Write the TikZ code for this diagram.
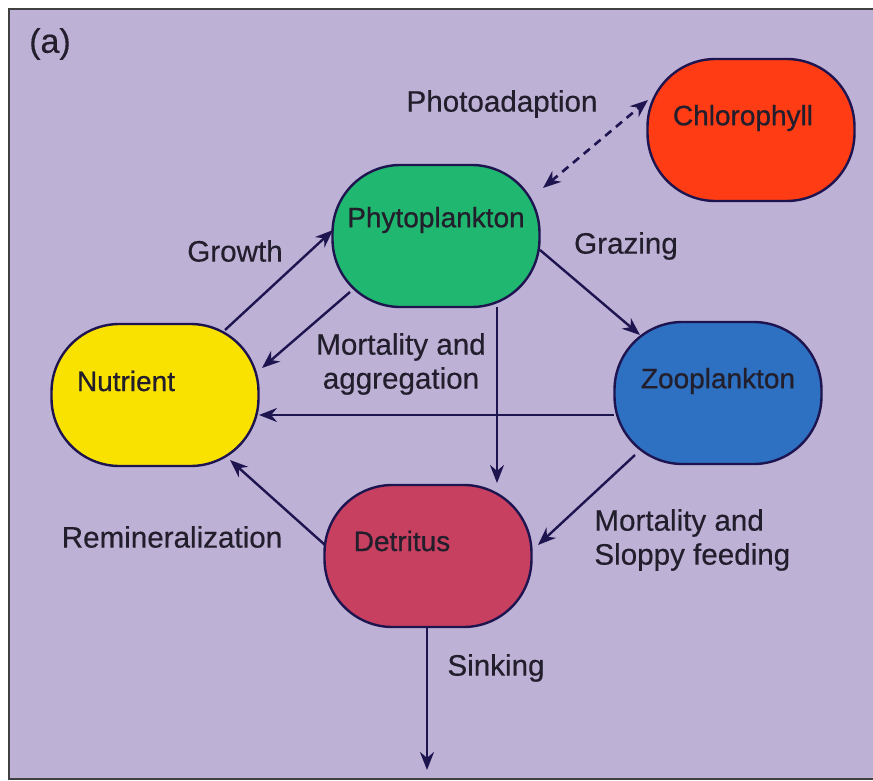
\documentclass[tikz,border=0pt]{standalone}
\usepackage{fontspec}
\setmainfont{Liberation Sans}
\newfontfamily\semib{Liberation Sans}[BoldFont=Liberation Sans, BoldFeatures={FakeBold=0.7}]
\newfontfamily\lblfont{Liberation Sans}[BoldFont=Liberation Sans, BoldFeatures={FakeBold=0.4}]
\usetikzlibrary{arrows.meta,calc}
\definecolor{bgc}{RGB}{189,177,214}
\definecolor{ink}{RGB}{30,20,80}
\definecolor{txt}{RGB}{34,30,44}
\definecolor{chlc}{RGB}{255,60,20}
\definecolor{phyc}{RGB}{32,184,112}
\definecolor{nutc}{RGB}{250,226,0}
\definecolor{zooc}{RGB}{46,112,194}
\definecolor{detc}{RGB}{200,64,96}
\tikzset{
  box/.style={draw=ink, line width=1.2pt, rounded corners=34pt, minimum width=103.5pt, minimum height=71pt, inner sep=0pt},
  boxtext/.style={font=\semib\bfseries\fontsize{14pt}{16pt}\selectfont, text=txt, inner sep=0pt},
  lbl/.style={font=\lblfont\bfseries\fontsize{14.8pt}{17pt}\selectfont, text=txt, inner sep=0pt},
  flow/.style={draw=ink, line width=1.2pt, -{Stealth[length=9pt,width=7pt]}},
  dflow/.style={draw=ink, line width=1.3pt, dash pattern=on 4pt off 3pt, {Stealth[length=9pt,width=7pt]}-{Stealth[length=9pt,width=7pt]}}
}
\begin{document}
\begin{tikzpicture}[x=0.5pt,y=-0.5pt]
\useasboundingbox (0,0) rectangle (873,781);
\fill[white] (0,0) rectangle (873,781);
\draw[fill=bgc, draw=black!75, line width=1pt] (9,9) rectangle (880,779);
\node[font=\lblfont\bfseries\fontsize{17pt}{20pt}\selectfont, text=txt, inner sep=0pt] (lab) at (50,44) {(a)};
% boxes
\node[box, fill=chlc] (chl) at (751,130) {};
\node[boxtext] (chlt) at (743,118) {Chlorophyll};
\node[box, fill=phyc] (phy) at (436,236) {};
\node[boxtext] (phyt) at (436,220) {Phytoplankton};
\node[box, fill=nutc] (nut) at (155,395) {};
\node[boxtext] (nutt) at (126,381) {Nutrient};
\node[box, fill=zooc] (zoo) at (718,393) {};
\node[boxtext] (zoot) at (718,381) {Zooplankton};
\node[box, fill=detc] (det) at (428,556) {};
\node[boxtext] (dett) at (402,541) {Detritus};
\coordinate (sinkend) at (427,770);
% connectors
\draw[dflow] ($(phy.center)+(107,-48)$) -- ($(chl.center)+(-103,-30)$);
\draw[flow] ($(nut.center)+(70,-65)$) -- ($(phy.center)+(-103,-6)$);
\draw[flow] ($(phy.center)+(-86,56)$) -- ($(nut.center)+(107,-27)$);
\draw[flow] ($(phy.center)+(61,71)$) -- ($(det.center)+(69,-73)$);
\draw[flow] ($(phy.center)+(104,14)$) -- ($(zoo.center)+(-78,-58)$);
\draw[flow] ($(zoo.center)+(-104,22)$) -- ($(nut.center)+(104,20)$);
\draw[flow] ($(zoo.center)+(-83,62)$) -- ($(det.center)+(110,-11)$);
\draw[flow] ($(det.center)+(-103,-11)$) -- ($(nut.center)+(75,65)$);
\draw[flow] ($(det.center)+(-1,71)$) -- (sinkend);
% labels
\node[lbl] (l1) at (502,104) {Photoadaption};
\node[lbl] (l2) at (235,251) {Growth};
\node[lbl] (l3) at (626,246) {Grazing};
\node[lbl, align=center] (l4) at (401,364) {Mortality and\\aggregation};
\node[lbl, align=left, anchor=west] (l5) at (594,540) {Mortality and\\Sloppy feeding};
\node[lbl] (l6) at (172,537) {Remineralization};
\node[lbl] (l7) at (496,668) {Sinking};
\end{tikzpicture}
\end{document}
